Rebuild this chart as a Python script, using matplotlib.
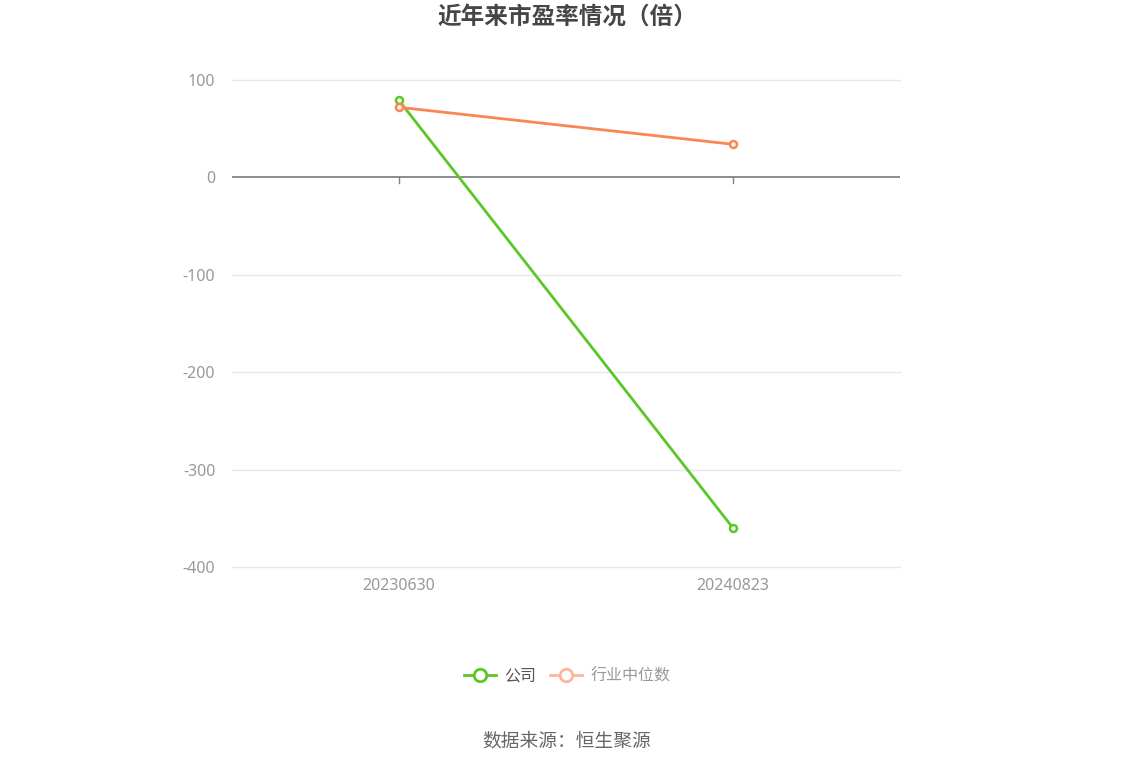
import matplotlib
matplotlib.use('Agg')
import matplotlib.pyplot as plt
from matplotlib.lines import Line2D

plt.rcParams['font.family'] = ['Noto Sans CJK SC', 'DejaVu Sans']

dates = ['20230630', '20240823']
company = [79, -360]
industry = [72, 34]
yticks = [100, 0, -100, -200, -300, -400]

W, H = 1134, 766
fig = plt.figure(figsize=(W / 100, H / 100), dpi=100)
ax = fig.add_axes([232 / W, 1 - 567 / H, (900 - 232) / W, (567 - 80) / H])

x = range(len(dates))
ax.plot(x, company, color='#5ac726', lw=2, marker='o', ms=5, mfc='white', mec='#5ac726', mew=1.8, zorder=4)
ax.plot(x, industry, color='#fc8652', lw=2, marker='o', ms=5, mfc='white', mec='#fc8652', mew=1.8, zorder=4)

ax.set_xlim(-0.5, 1.5)
ax.set_ylim(-400, 100)
ax.set_yticks(yticks)
ax.set_yticklabels([str(v) for v in yticks])
ax.set_xticks(list(x))
ax.set_xticklabels(dates)
for v in yticks:
    if v != 0:
        ax.axhline(v, color='#e6e8f0', lw=1, zorder=1, clip_on=False)
ax.axhline(0, color='#80828a', lw=1.3, zorder=2)
for i in x:
    ax.plot([i, i], [0, -6], color='#80828a', lw=1, zorder=2, clip_on=False)

for s in ax.spines.values():
    s.set_visible(False)
ax.tick_params(axis='both', length=0, colors='#999999', labelsize=11.5)
ax.tick_params(axis='x', pad=8)
ax.tick_params(axis='y', pad=12)
for lab in ax.get_xticklabels() + ax.get_yticklabels():
    lab.set_family(['Noto Sans', 'DejaVu Sans'])

fig.text(0.5, 1 - 17 / H, '近年来市盈率情况（倍）', ha='center', va='center',
         fontsize=17, fontweight='bold', color='#464646')

h1 = Line2D([], [], color='#5ac726', lw=2, marker='o', ms=9, mfc='white', mec='#5ac726', mew=2)
h2 = Line2D([], [], color='#fbb79b', lw=2, marker='o', ms=9, mfc='white', mec='#fbb79b', mew=2)
leg = fig.legend([h1, h2], ['公司', '行业中位数'], loc='center', bbox_to_anchor=(0.5, 1 - 676 / H),
                 ncol=2, frameon=False, fontsize=11.5, handlelength=2.0, columnspacing=0.9, handletextpad=0.5)
leg.get_texts()[0].set_color('#555555')
leg.get_texts()[1].set_color('#999999')

fig.text(0.5, 1 - 741 / H, '数据来源：恒生聚源', ha='center', va='center', fontsize=13.5, color='#666666')

fig.savefig('out.png', dpi=100, facecolor='white')
